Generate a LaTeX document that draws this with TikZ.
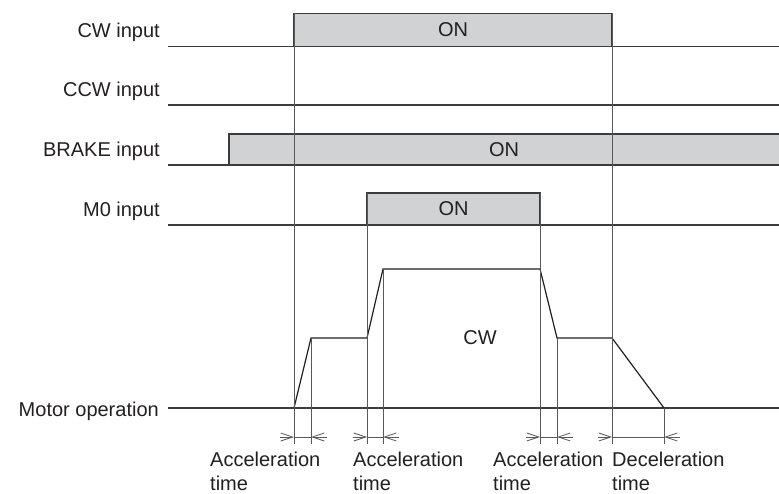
\documentclass[tikz,border=0pt]{standalone}
\usepackage{fontspec}
\setmainfont{Liberation Sans}
\usetikzlibrary{arrows.meta}
\definecolor{onfill}{RGB}{209,210,212}
\definecolor{ink}{RGB}{35,31,32}
\definecolor{lineink}{RGB}{60,60,60}
\tikzset{
  sig/.style={line width=1.4pt, draw=lineink},
  guide/.style={line width=0.8pt, draw=lineink!85},
  prof/.style={line width=1.2pt, draw=ink, line join=miter},
  dimarrow/.style={guide, -{Straight Barb[length=12pt,width=8pt,line width=0.8pt]}},
  lbl/.style={anchor=base east, inner sep=0pt, text=ink},
  txt/.style={font=\fontsize{20}{24}\selectfont, text=ink}
}
\begin{document}
\begin{tikzpicture}[x=1pt,y=-1pt, every node/.style={txt}]
  \useasboundingbox (0,0) rectangle (779,494);
  % ON periods
  \fill[onfill] (294,13.5) rectangle (612,46.5);
  \fill[onfill] (229,134) rectangle (779,165);
  \fill[onfill] (367,193) rectangle (540,225);
  % input lines with labels
  \foreach \y/\n [count=\i] in {46.5/CW input, 105/CCW input, 165/BRAKE input, 225/M0 input} {
    \draw[sig] (168,\y) -- (779,\y);
    \node[lbl] (in\i) at (160,\y-8.5) {\n};
  }
  \draw[sig] (294,46.5) -- (294,13.5) -- (612,13.5) -- (612,46.5);
  \draw[sig] (229,165) -- (229,134) -- (779,134);
  \draw[sig] (367,225) -- (367,193) -- (540,193) -- (540,225);
  \node (cwon) at (453,30) {ON};
  \node (brakeon) at (504,149.5) {ON};
  \node (mon) at (453.5,209) {ON};
  % motor operation
  \draw[sig] (168,408) -- (779,408);
  \node[lbl] (motor) at (159,416) {Motor operation};
  \draw[prof] (294,408) -- (311,338) -- (367,338) -- (383,269) -- (540,269)
    -- (557,338) -- (612,338) -- (664,408);
  \node (cw) at (480,338) {CW};
  % guide lines
  \foreach \x/\t in {294/13.5, 311/338, 367/193, 383/269, 540/193, 557/338, 612/13.5, 664/408}
    \draw[guide] (\x,\t) -- (\x,444);
  % time spans
  \foreach \a/\b in {294/311, 367/383, 540/557, 612/664} {
    \draw[guide] (\a,437) -- (\b,437);
    \draw[dimarrow] (\a-14,437) -- (\a,437);
    \draw[dimarrow] (\b+16,437) -- (\b,437);
  }
  \foreach \x/\n [count=\i] in {210/Acceleration, 353/Acceleration, 493/Acceleration, 612/Deceleration}
    \node[anchor=north west, inner sep=0pt, align=left] (span\i) at (\x,452) {\n\\time};
\end{tikzpicture}
\end{document}
